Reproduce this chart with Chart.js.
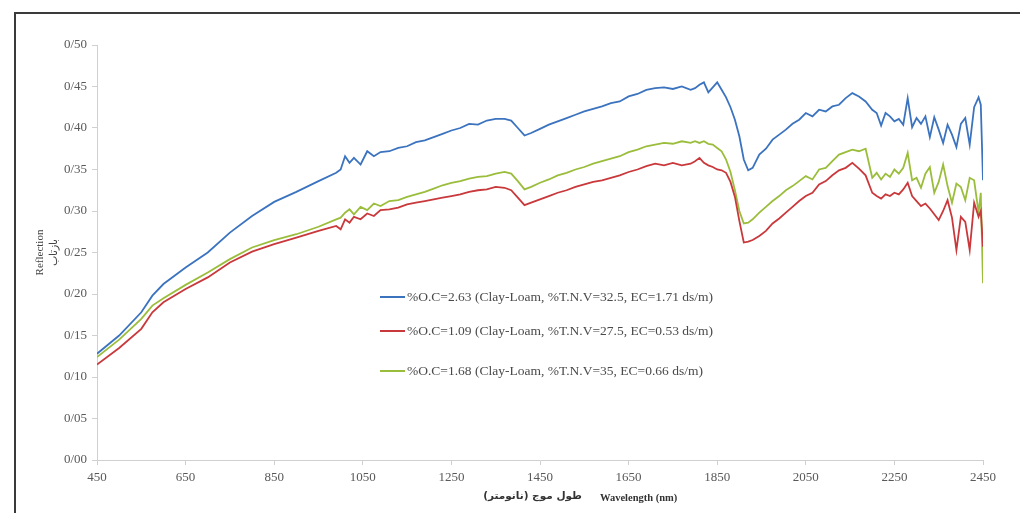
<!DOCTYPE html>
<html>
<head>
<meta charset="utf-8">
<script src="https://cdn.jsdelivr.net/npm/chart.js@4"></script>
<style>
  html, body { margin: 0; padding: 0; background: #fff; }
  #wrap { position: relative; width: 1020px; height: 513px; }
  #frame { position: absolute; left: 14px; top: 12px; right: 0; bottom: 0;
           border-left: 2px solid #3a3a3a; border-top: 2px solid #3a3a3a; }
  canvas { position: absolute; left: 0; top: 0; }
</style>
</head>
<body>
<div id="wrap">
  <div id="frame"></div>
  <canvas id="spectraChart" width="1020" height="513"></canvas>
</div>
<script>
// wavelength (nm)
const wavelength = [
  450, 500, 550, 575, 600, 650, 700, 750, 800, 850, 900, 950, 990, 1000, 1010, 1020, 1030, 1045, 1060, 1075,
  1090, 1110, 1130, 1150, 1170, 1190, 1210, 1230, 1250, 1270, 1290, 1310, 1330, 1350, 1370, 1385, 1400, 1415, 1430, 1450,
  1470, 1490, 1510, 1530, 1550, 1570, 1590, 1610, 1630, 1650, 1670, 1690, 1710, 1730, 1750, 1770, 1790, 1800, 1810, 1820,
  1830, 1840, 1850, 1860, 1870, 1880, 1890, 1900, 1910, 1920, 1930, 1945, 1960, 1975, 1990, 2005, 2020, 2035, 2050, 2065,
  2080, 2095, 2110, 2125, 2140, 2155, 2170, 2185, 2200, 2210, 2220, 2230, 2240, 2250, 2260, 2270, 2280, 2290, 2300, 2310,
  2320, 2330, 2340, 2350, 2360, 2370, 2380, 2390, 2400, 2410, 2420, 2430, 2440, 2445, 2450
];

// %O.C=2.63
const soilBlue = [
  0.128, 0.150, 0.178, 0.198, 0.212, 0.232, 0.250, 0.274, 0.294, 0.311, 0.323, 0.336, 0.346, 0.350, 0.366, 0.358, 0.364, 0.356, 0.372, 0.366,
  0.371, 0.372, 0.376, 0.378, 0.383, 0.385, 0.389, 0.393, 0.397, 0.400, 0.405, 0.404, 0.409, 0.411, 0.411, 0.409, 0.400, 0.391, 0.394, 0.399,
  0.404, 0.408, 0.412, 0.416, 0.420, 0.423, 0.426, 0.430, 0.432, 0.438, 0.441, 0.446, 0.448, 0.449, 0.447, 0.450, 0.446, 0.448, 0.452, 0.455,
  0.443, 0.449, 0.455, 0.446, 0.437, 0.425, 0.410, 0.390, 0.362, 0.349, 0.352, 0.368, 0.375, 0.386, 0.392, 0.398, 0.405, 0.410, 0.418, 0.414,
  0.422, 0.420, 0.426, 0.428, 0.436, 0.442, 0.438, 0.432, 0.422, 0.418, 0.403, 0.418, 0.414, 0.408, 0.411, 0.404, 0.436, 0.401, 0.412, 0.405,
  0.414, 0.389, 0.413, 0.398, 0.382, 0.404, 0.392, 0.377, 0.405, 0.412, 0.380, 0.425, 0.437, 0.428, 0.337
];

// %O.C=1.09
const soilRed = [
  0.115, 0.135, 0.158, 0.178, 0.190, 0.206, 0.220, 0.238, 0.251, 0.260, 0.268, 0.276, 0.282, 0.278, 0.290, 0.286, 0.293, 0.290, 0.297, 0.294,
  0.301, 0.302, 0.304, 0.308, 0.310, 0.312, 0.314, 0.316, 0.318, 0.320, 0.323, 0.325, 0.326, 0.329, 0.328, 0.325, 0.316, 0.307, 0.310, 0.314,
  0.318, 0.322, 0.325, 0.329, 0.332, 0.335, 0.337, 0.340, 0.343, 0.347, 0.350, 0.354, 0.357, 0.355, 0.358, 0.355, 0.357, 0.360, 0.364, 0.358,
  0.355, 0.353, 0.350, 0.349, 0.346, 0.335, 0.317, 0.288, 0.262, 0.263, 0.265, 0.270, 0.276, 0.285, 0.291, 0.298, 0.305, 0.312, 0.318, 0.322,
  0.332, 0.336, 0.343, 0.349, 0.352, 0.358, 0.351, 0.343, 0.322, 0.318, 0.315, 0.320, 0.318, 0.322, 0.320, 0.326, 0.334, 0.318, 0.312, 0.306,
  0.309, 0.303, 0.296, 0.289, 0.300, 0.313, 0.292, 0.253, 0.293, 0.287, 0.253, 0.310, 0.293, 0.300, 0.257
];

// %O.C=1.68
const soilGreen = [
  0.124, 0.145, 0.170, 0.186, 0.195, 0.211, 0.226, 0.242, 0.256, 0.265, 0.272, 0.281, 0.290, 0.292, 0.298, 0.302, 0.296, 0.305, 0.301, 0.309,
  0.306, 0.312, 0.313, 0.317, 0.320, 0.323, 0.327, 0.331, 0.334, 0.336, 0.339, 0.341, 0.342, 0.345, 0.347, 0.345, 0.336, 0.326, 0.329, 0.334,
  0.338, 0.343, 0.346, 0.350, 0.353, 0.357, 0.360, 0.363, 0.366, 0.371, 0.374, 0.378, 0.380, 0.382, 0.381, 0.384, 0.382, 0.384, 0.382, 0.384,
  0.381, 0.380, 0.376, 0.372, 0.362, 0.347, 0.325, 0.300, 0.285, 0.286, 0.290, 0.298, 0.305, 0.312, 0.318, 0.325, 0.330, 0.336, 0.342, 0.338,
  0.350, 0.352, 0.360, 0.368, 0.371, 0.374, 0.372, 0.375, 0.340, 0.346, 0.338, 0.345, 0.341, 0.350, 0.345, 0.352, 0.370, 0.337, 0.340, 0.328,
  0.345, 0.353, 0.322, 0.335, 0.356, 0.330, 0.310, 0.333, 0.329, 0.313, 0.340, 0.337, 0.298, 0.322, 0.213
];

const seriesLabels = [
  '%O.C=2.63 (Clay-Loam, %T.N.V=32.5, EC=1.71 ds/m)',
  '%O.C=1.09 (Clay-Loam, %T.N.V=27.5, EC=0.53 ds/m)',
  '%O.C=1.68 (Clay-Loam, %T.N.V=35, EC=0.66 ds/m)'
];
const seriesColors = ['#3b73bf', '#c9383b', '#9bbd3c'];

const xTitleFa = 'طول موج (نانومتر)';
const xTitleEn = 'Wavelength (nm)';

function toPoints(values) {
  return values.map((v, i) => ({ x: wavelength[i], y: v }));
}

// legend sits inside the plot, like the original; x title is drawn in two fonts
const innerLegend = {
  id: 'innerLegend',
  afterDatasetsDraw(chart) {
    const ctx = chart.ctx;
    const rows = [297, 331, 371];
    ctx.save();
    ctx.font = '13.5px "Liberation Serif", serif';
    ctx.textBaseline = 'middle';
    chart.data.datasets.forEach((ds, i) => {
      ctx.strokeStyle = ds.borderColor;
      ctx.lineWidth = 2;
      ctx.beginPath();
      ctx.moveTo(380, rows[i]);
      ctx.lineTo(405, rows[i]);
      ctx.stroke();
      ctx.fillStyle = '#4a4a4a';
      ctx.fillText(ds.label, 407, rows[i]);
    });

    ctx.fillStyle = '#333';
    ctx.textAlign = 'right';
    ctx.font = 'bold 10.5px "DejaVu Sans", sans-serif';
    ctx.fillText(xTitleFa, 582, 496);
    ctx.textAlign = 'left';
    ctx.font = 'bold 10.5px "Liberation Serif", serif';
    ctx.fillText(xTitleEn, 600, 498);
    ctx.restore();
  }
};

const ctx = document.getElementById('spectraChart').getContext('2d');
new Chart(ctx, {
  type: 'line',
  data: {
    datasets: [
      { label: seriesLabels[0], data: toPoints(soilBlue), borderColor: seriesColors[0] },
      { label: seriesLabels[1], data: toPoints(soilRed), borderColor: seriesColors[1] },
      { label: seriesLabels[2], data: toPoints(soilGreen), borderColor: seriesColors[2] }
    ]
  },
  options: {
    responsive: false,
    animation: false,
    layout: { padding: { left: 32, top: 45, right: 37, bottom: 0 } },
    elements: {
      point: { radius: 0 },
      line: { borderWidth: 1.8, tension: 0 }
    },
    plugins: {
      legend: { display: false },
      tooltip: { enabled: false }
    },
    scales: {
      x: {
        type: 'linear',
        min: 450,
        max: 2450,
        afterFit: (s) => { s.height = 53; },
        ticks: {
          stepSize: 200,
          color: '#595959',
          padding: 5,
          font: { family: 'Liberation Serif', size: 13 },
          callback: (v) => String(v)
        },
        grid: { drawOnChartArea: false, drawTicks: true, tickLength: 5, color: '#d0d0d0' },
        border: { color: '#d0d0d0' }
      },
      y: {
        min: 0,
        max: 0.5,
        afterFit: (s) => { s.width = 65; },
        ticks: {
          stepSize: 0.05,
          color: '#595959',
          padding: 5,
          font: { family: 'Liberation Serif', size: 13 },
          callback: (v) => v.toFixed(2).replace('.', '/')
        },
        grid: { drawOnChartArea: false, drawTicks: true, tickLength: 5, color: '#d0d0d0' },
        border: { color: '#d0d0d0' },
        title: {
          display: true,
          text: ['Reflection', 'بازتاب'],
          color: '#444',
          padding: 2,
          font: { family: 'Liberation Serif', size: 11 }
        }
      }
    }
  },
  plugins: [innerLegend]
});
</script>
</body>
</html>
